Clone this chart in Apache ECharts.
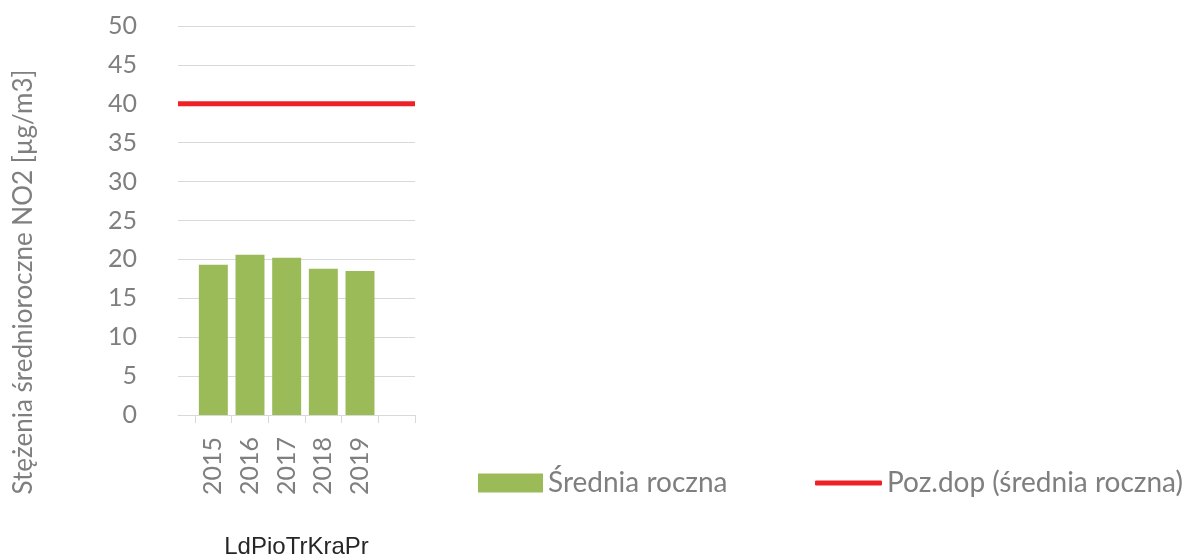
<!DOCTYPE html>
<html>
<head>
<meta charset="utf-8">
<script src="https://cdn.jsdelivr.net/npm/echarts@6/dist/echarts.min.js"></script>
<style>
  html, body { margin: 0; padding: 0; background: #fff; }
  #chart { width: 1189px; height: 560px; }
</style>
</head>
<body>
<div id="chart"></div>
<script>
// dane
var years = ['2015', '2016', '2017', '2018', '2019'];
var srednia = [19.3, 20.6, 20.2, 18.8, 18.5];
var pozDop = 40;
var groupName = 'LdPioTrKraPr';
var yTicks = { min: 0, max: 50, interval: 5 };

var grey = '#7f7f7f';
var font = 'Lato, "Open Sans", sans-serif';

var chart = echarts.init(document.getElementById('chart'));

var option = {
  animation: false,
  backgroundColor: '#fff',
  // dwa gridy: szerszy na os Y, linie siatki i poziom dopuszczalny, wezszy na slupki
  grid: [
    { left: 178, right: 774, top: 26, bottom: 145, outerBoundsMode: 'none' },
    { left: 195, right: 774, top: 26, bottom: 145, outerBoundsMode: 'none' }
  ],
  xAxis: [
    {
      type: 'category',
      gridIndex: 0,
      data: ['', ''],
      boundaryGap: false,
      axisLine: { lineStyle: { color: '#d9d9d9', width: 1 } },
      axisTick: { show: false },
      axisLabel: { show: false },
      name: groupName,
      nameLocation: 'middle',
      nameGap: 120,
      nameTextStyle: { fontFamily: '"Liberation Sans", Arial, sans-serif', fontSize: 24, color: '#262626' }
    },
    {
      type: 'category',
      gridIndex: 1,
      data: years.concat(['']),
      axisLine: { show: false },
      axisTick: { show: true, length: 8, lineStyle: { color: '#d9d9d9' } },
      axisLabel: { rotate: 90, margin: 22, fontFamily: font, fontSize: 25, color: grey }
    }
  ],
  yAxis: [
    {
      type: 'value',
      gridIndex: 0,
      min: yTicks.min,
      max: yTicks.max,
      interval: yTicks.interval,
      axisLine: { show: false },
      axisTick: { show: false },
      axisLabel: { margin: 41, fontFamily: font, fontSize: 25, color: grey },
      splitLine: { lineStyle: { color: '#d9d9d9', width: 1 } }
    },
    {
      type: 'value',
      gridIndex: 1,
      min: yTicks.min,
      max: yTicks.max,
      interval: yTicks.interval,
      show: false,
      splitLine: { show: false }
    }
  ],
  legend: [
    {
      data: ['Średnia roczna'],
      left: 478,
      top: 469,
      padding: 0,
      icon: 'rect',
      itemWidth: 65,
      itemHeight: 19,
      textStyle: { fontFamily: font, fontSize: 28, color: grey }
    },
    {
      data: ['Poz.dop (średnia roczna)'],
      left: 815,
      top: 469,
      padding: 0,
      icon: 'roundRect',
      itemWidth: 67,
      itemHeight: 5,
      textStyle: { fontFamily: font, fontSize: 28, color: grey }
    }
  ],
  graphic: [
    {
      type: 'text',
      x: 24,
      y: 282,
      rotation: Math.PI / 2,
      style: {
        text: 'Stężenia średnioroczne NO2 [µg/m3]',
        font: '26px Lato, "Open Sans", sans-serif',
        fill: grey,
        align: 'center',
        verticalAlign: 'middle'
      }
    }
  ],
  series: [
    {
      name: 'Średnia roczna',
      type: 'bar',
      xAxisIndex: 1,
      yAxisIndex: 1,
      data: srednia,
      barCategoryGap: '21%',
      itemStyle: { color: '#9bbb59' }
    },
    {
      name: 'Poz.dop (średnia roczna)',
      type: 'line',
      xAxisIndex: 0,
      yAxisIndex: 0,
      data: [pozDop, pozDop],
      symbol: 'none',
      itemStyle: { color: '#ee2127' },
      lineStyle: { color: '#ee2127', width: 5 }
    }
  ]
};

chart.setOption(option);
</script>
</body>
</html>
